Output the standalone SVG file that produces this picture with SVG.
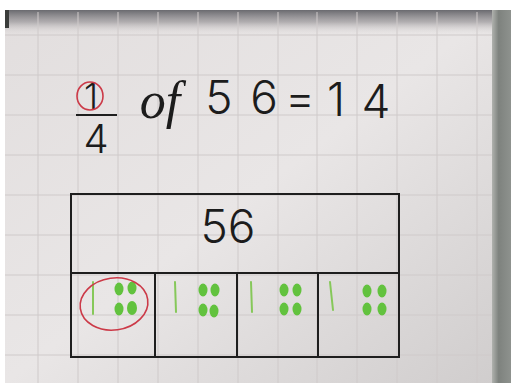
<svg xmlns="http://www.w3.org/2000/svg" width="511" height="383" viewBox="0 0 511 383">
<defs>
<linearGradient id="board" x1="0" y1="0" x2="1" y2="1">
<stop offset="0" stop-color="#e2dede"/>
<stop offset="0.5" stop-color="#e9e6e6"/>
<stop offset="1" stop-color="#d0cdcd"/>
</linearGradient>
<linearGradient id="topband" x1="0" y1="0" x2="0" y2="1">
<stop offset="0" stop-color="#6a6a6f"/>
<stop offset="0.5" stop-color="#9a979a" stop-opacity="0.7"/>
<stop offset="1" stop-color="#dcd8d8" stop-opacity="0"/>
</linearGradient>
<linearGradient id="frame" x1="0" y1="0" x2="1" y2="0">
<stop offset="0" stop-color="#b0b2ae"/>
<stop offset="0.35" stop-color="#7e827e"/>
<stop offset="1" stop-color="#8e928e"/>
</linearGradient>
<style>
.grid line{stroke:#cfcaca;stroke-width:1}
.ink{font-family:Inter,"DejaVu Sans",sans-serif;font-weight:300;fill:#1c1c1c;text-anchor:middle}
.box{fill:none;stroke:#1e1e1e;stroke-width:2}
.tally{stroke:#86c85a;stroke-width:2;stroke-linecap:round}
.dot{fill:#62c23e}
.red{fill:none;stroke:#cc3a48;stroke-width:1.6}
</style>
</defs>
<g id="background">
<rect width="511" height="383" fill="#ffffff"/>
<rect x="5" y="10" width="491" height="373" fill="url(#board)"/>
<rect x="5" y="10" width="487" height="24" fill="url(#topband)"/>
<rect x="5" y="10" width="4" height="18" fill="#3a3c3a"/>
<rect x="492" y="10" width="19" height="373" fill="url(#frame)"/>
</g>
<g id="grid" class="grid">
<line x1="38" y1="12" x2="38" y2="383"/>
<line x1="78" y1="12" x2="78" y2="383"/>
<line x1="118" y1="12" x2="118" y2="383"/>
<line x1="158" y1="12" x2="158" y2="383"/>
<line x1="198" y1="12" x2="198" y2="383"/>
<line x1="238" y1="12" x2="238" y2="383"/>
<line x1="278" y1="12" x2="278" y2="383"/>
<line x1="317" y1="12" x2="317" y2="383"/>
<line x1="357" y1="12" x2="357" y2="383"/>
<line x1="397" y1="12" x2="397" y2="383"/>
<line x1="437" y1="12" x2="437" y2="383"/>
<line x1="477" y1="12" x2="477" y2="383"/>
<line x1="5" y1="35" x2="492" y2="35"/>
<line x1="5" y1="75" x2="492" y2="75"/>
<line x1="5" y1="115" x2="492" y2="115"/>
<line x1="5" y1="155" x2="492" y2="155"/>
<line x1="5" y1="195" x2="492" y2="195"/>
<line x1="5" y1="235" x2="492" y2="235"/>
<line x1="5" y1="275" x2="492" y2="275"/>
<line x1="5" y1="315" x2="492" y2="315"/>
<line x1="5" y1="355" x2="492" y2="355"/>
</g>
<g id="equation">
<text class="ink" x="91" y="109" font-size="36">1</text>
<ellipse class="red" cx="90" cy="96" rx="13" ry="14"/>
<line x1="76" y1="115" x2="117" y2="115" stroke="#1e1e1e" stroke-width="2"/>
<text class="ink" x="96" y="153" font-size="40">4</text>
<text x="160" y="118" font-size="52" font-family="'Liberation Serif',serif" font-style="italic" fill="#1c1c1c" text-anchor="middle">of</text>
<text class="ink" x="219" y="114" font-size="46">5</text>
<text class="ink" x="264" y="114" font-size="46">6</text>
<text class="ink" x="300" y="114" font-size="46">=</text>
<text class="ink" x="336" y="116" font-size="46">1</text>
<text class="ink" x="376" y="118" font-size="46">4</text>
</g>
<g id="whole">
<rect class="box" x="71" y="194" width="328" height="79"/>
<text class="ink" x="228" y="243" font-size="46">56</text>
</g>
<g id="part1">
<rect class="box" x="71" y="273" width="84" height="84"/>
<line class="tally" x1="93" y1="282" x2="93" y2="314"/>
<ellipse class="dot" cx="119" cy="289" rx="4.5" ry="6.5"/>
<ellipse class="dot" cx="132" cy="288" rx="4.5" ry="6.5"/>
<ellipse class="dot" cx="119" cy="309" rx="4.5" ry="6.5"/>
<ellipse class="dot" cx="132" cy="308" rx="5" ry="7"/>
<ellipse class="red" cx="114" cy="304" rx="34" ry="26" transform="rotate(-8 114 304)"/>
</g>
<g id="part2">
<rect class="box" x="155" y="273" width="82" height="84"/>
<line class="tally" x1="175" y1="282" x2="176" y2="312"/>
<ellipse class="dot" cx="203" cy="290" rx="4.5" ry="6.5"/>
<ellipse class="dot" cx="215" cy="290" rx="4.5" ry="6.5"/>
<ellipse class="dot" cx="203" cy="310" rx="4.5" ry="6.5"/>
<ellipse class="dot" cx="214" cy="311" rx="4.5" ry="6.5"/>
</g>
<g id="part3">
<rect class="box" x="237" y="273" width="81" height="84"/>
<line class="tally" x1="251" y1="282" x2="252" y2="312"/>
<ellipse class="dot" cx="284" cy="290" rx="4.5" ry="6.5"/>
<ellipse class="dot" cx="297" cy="290" rx="4.5" ry="6.5"/>
<ellipse class="dot" cx="284" cy="309" rx="4.5" ry="6.5"/>
<ellipse class="dot" cx="297" cy="309" rx="4.5" ry="6.5"/>
</g>
<g id="part4">
<rect class="box" x="318" y="273" width="81" height="84"/>
<line class="tally" x1="330" y1="282" x2="333" y2="310"/>
<ellipse class="dot" cx="367" cy="291" rx="4.5" ry="6.5"/>
<ellipse class="dot" cx="382" cy="291" rx="4.5" ry="6.5"/>
<ellipse class="dot" cx="367" cy="309" rx="4.5" ry="6.5"/>
<ellipse class="dot" cx="382" cy="309" rx="4.5" ry="6.5"/>
</g>
</svg>
